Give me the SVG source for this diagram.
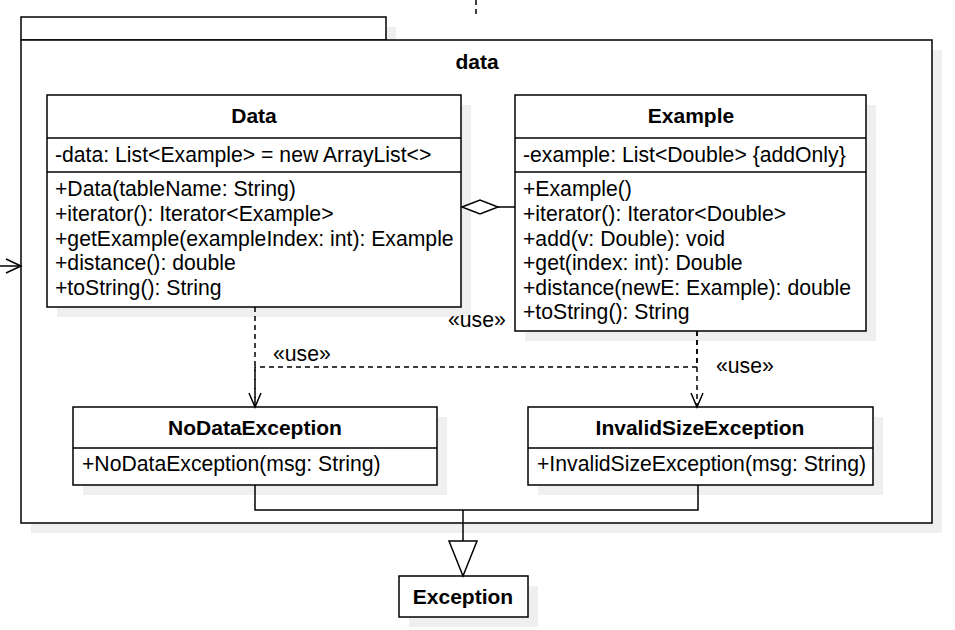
<svg xmlns="http://www.w3.org/2000/svg" width="955" height="630" viewBox="0 0 955 630">
<defs>
<style>
.sh{fill:#efefef;stroke:none}
.box{fill:#fff;stroke:#000;stroke-width:1.5}
.ln{fill:none;stroke:#000;stroke-width:1.5}
.dash{fill:none;stroke:#000;stroke-width:1.5;stroke-dasharray:5 4}
.t{font-family:"Liberation Sans",Arial,sans-serif;font-size:21.2px;fill:#000}
.b{font-family:"Liberation Sans",Arial,sans-serif;font-size:21px;font-weight:bold;fill:#000}
</style>
</defs>
<rect width="955" height="630" fill="#fff"/>

<g id="package-data">
<rect class="sh" x="31" y="27" width="365" height="23"/>
<rect class="sh" x="31" y="50" width="911" height="483"/>
<rect class="box" x="21" y="17" width="365" height="23"/>
<rect class="box" x="21" y="40" width="911" height="483"/>
<text class="b" x="477" y="69" text-anchor="middle">data</text>
</g>

<g id="Data">
<rect class="sh" x="57" y="105" width="414" height="212"/>
<rect class="box" x="47" y="95" width="414" height="212"/>
<line class="ln" x1="47" y1="138" x2="461" y2="138"/>
<line class="ln" x1="47" y1="172" x2="461" y2="172"/>
<text class="b" x="254" y="123" text-anchor="middle">Data</text>
<text class="t" x="55" y="162">-data: List&lt;Example&gt; = new ArrayList&lt;&gt;</text>
<text class="t" x="55" y="196">+Data(tableName: String)</text>
<text class="t" x="55" y="221">+iterator(): Iterator&lt;Example&gt;</text>
<text class="t" x="55" y="246">+getExample(exampleIndex: int): Example</text>
<text class="t" x="55" y="270">+distance(): double</text>
<text class="t" x="55" y="295">+toString(): String</text>
</g>

<g id="Example">
<rect class="sh" x="525" y="105" width="351" height="236"/>
<rect class="box" x="515" y="95" width="351" height="236"/>
<line class="ln" x1="515" y1="138" x2="866" y2="138"/>
<line class="ln" x1="515" y1="172" x2="866" y2="172"/>
<text class="b" x="691" y="123" text-anchor="middle">Example</text>
<text class="t" x="523" y="162">-example: List&lt;Double&gt; {addOnly}</text>
<text class="t" x="523" y="196">+Example()</text>
<text class="t" x="523" y="221">+iterator(): Iterator&lt;Double&gt;</text>
<text class="t" x="523" y="246">+add(v: Double): void</text>
<text class="t" x="523" y="270">+get(index: int): Double</text>
<text class="t" x="523" y="295">+distance(newE: Example): double</text>
<text class="t" x="523" y="319">+toString(): String</text>
</g>

<g id="NoDataException">
<rect class="sh" x="83" y="417" width="364" height="78"/>
<rect class="box" x="73" y="407" width="364" height="78"/>
<line class="ln" x1="73" y1="448" x2="437" y2="448"/>
<text class="b" x="255" y="435" text-anchor="middle">NoDataException</text>
<text class="t" x="82" y="471">+NoDataException(msg: String)</text>
</g>

<g id="InvalidSizeException">
<rect class="sh" x="538" y="417" width="345" height="78"/>
<rect class="box" x="528" y="407" width="345" height="78"/>
<line class="ln" x1="528" y1="448" x2="873" y2="448"/>
<text class="b" x="700" y="435" text-anchor="middle">InvalidSizeException</text>
<text class="t" x="537" y="471">+InvalidSizeException(msg: String)</text>
</g>

<g id="Exception">
<rect class="sh" x="409" y="586" width="129" height="41"/>
<rect class="box" x="399" y="576" width="129" height="41"/>
<text class="b" x="463" y="604" text-anchor="middle">Exception</text>
</g>

<g id="connectors">
<path class="dash" d="M476,0 V15"/>
<path class="ln" d="M0,266 H20"/>
<path class="ln" d="M6,259 L21,266 L6,273"/>
<path class="ln" d="M515,207 H498"/>
<polygon class="box" points="462,207 480,200 498,207 480,214"/>
<path class="dash" d="M255,307 V406"/>
<path class="dash" d="M697,331 V367 H255 V406"/>
<path class="dash" d="M697,331 V406"/>
<path class="ln" d="M249,393 L255,407 L261,393"/>
<path class="ln" d="M691,393 L697,407 L703,393"/>
<path class="ln" d="M255,485 V510 H698 V485"/>
<path class="ln" d="M463,510 V541"/>
<polygon class="box" points="449,541 477,541 463,576"/>
<text class="t" x="273" y="361">«use»</text>
<text class="t" x="448" y="327">«use»</text>
<text class="t" x="716" y="373">«use»</text>
</g>
</svg>
